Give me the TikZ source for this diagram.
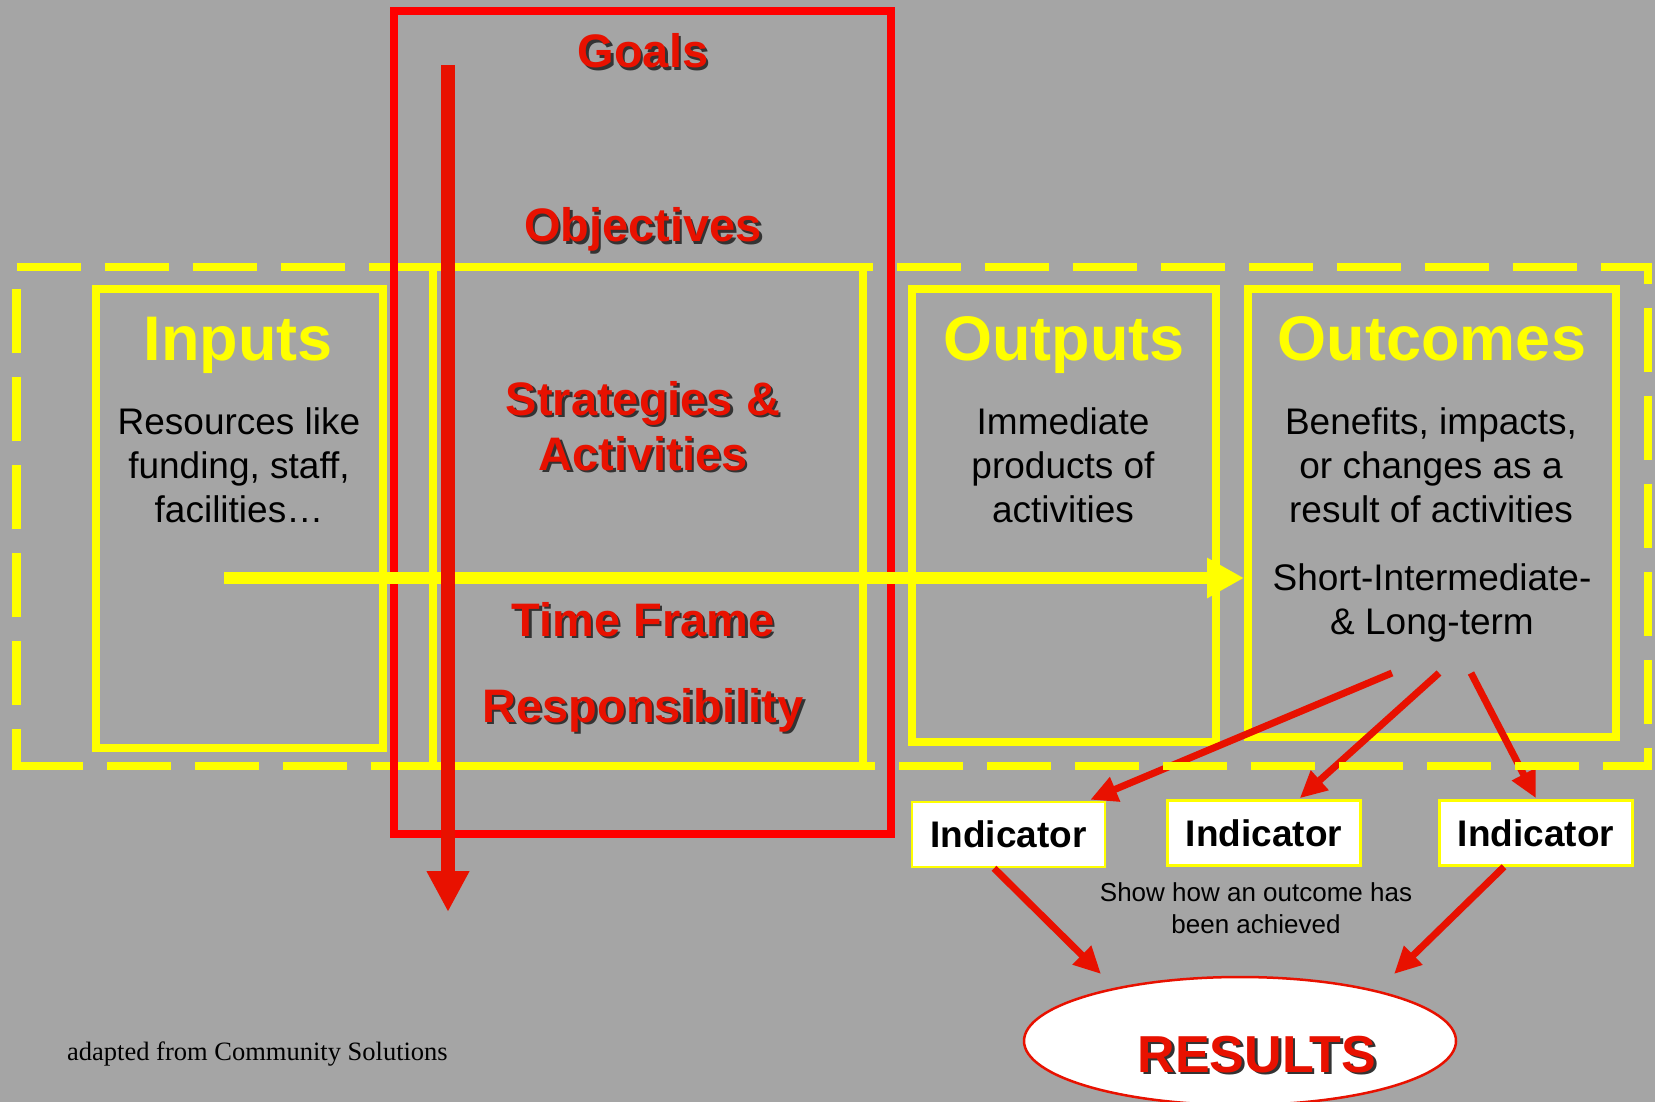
\documentclass[tikz,border=0pt]{standalone}
\usepackage{fontspec}
\setmainfont{Liberation Sans}
\newfontfamily\footserif{Liberation Serif}
\usetikzlibrary{arrows.meta,shapes.geometric}
\definecolor{bggray}{RGB}{165,165,165}
\definecolor{ylw}{RGB}{255,255,0}
\definecolor{boxred}{RGB}{255,0,0}
\definecolor{txtred}{RGB}{232,17,0}
\tikzset{
  ybox/.style={draw=ylw,line width=8pt,inner sep=0pt},
  dashbox/.style={draw=ylw,line width=8.5pt,dash pattern=on 64pt off 24pt},
  redarr/.style={draw=txtred,line width=7pt,-{Triangle[length=27pt,width=25pt]}},
  yarr/.style={draw=ylw,line width=12pt,-{Triangle[length=37pt,width=38pt]}},
  vred/.style={draw=txtred,line width=14pt,-{Triangle[length=41pt,width=40pt]}},
  redtxt/.style={text=txtred,font=\fontsize{47}{56}\selectfont\bfseries,inner sep=0pt,anchor=base},
  shadowtxt/.style={redtxt,text=black!80},
  ytitle/.style={text=ylw,font=\fontsize{63}{75}\selectfont\bfseries,inner sep=0pt,anchor=base},
  body/.style={text=black,font=\fontsize{37}{44}\selectfont,inner sep=0pt,anchor=base,align=center},
  indbox/.style={draw=ylw,fill=white,line width=2.5pt,minimum width=193pt,minimum height=65pt,inner sep=0pt,
    font=\fontsize{37}{44}\selectfont\bfseries,text=black},
}
\newcommand\shadowlabel[4]{%
  \node[shadowtxt,#4] at (#2+2.5,#3+2.5) {#1};
  \node[redtxt,#4] at (#2,#3) {#1};}
\begin{document}
\begin{tikzpicture}[x=1pt,y=-1pt]
\useasboundingbox (0,0) rectangle (1655,1102);
\fill[bggray] (0,0) rectangle (1655,1102);

% solid yellow boxes
\node[ybox,minimum width=287.5pt,minimum height=459pt] (inputs) at (239.25,518.5) {};
\node[ybox,minimum width=304pt,minimum height=453pt] (outputs) at (1064,515.5) {};
\node[ybox,minimum width=368pt,minimum height=448pt] (outcomes) at (1432,513) {};

% indicators
\node[indbox] (ind1) at (1008.5,834.5) {Indicator};
\node[indbox] (ind2) at (1264,833) {Indicator};
\node[indbox] (ind3) at (1536,833) {Indicator};

% results
\node[ellipse,draw=txtred,line width=2.5pt,fill=white,minimum width=432pt,minimum height=128pt,inner sep=0pt] (res) at (1240,1041) {};

% arrows from outcomes to indicators
\coordinate (s1) at (1392,673);
\coordinate (s2) at (1439,673);
\coordinate (s3) at (1471,673);
\draw[redarr] (s1) -- ([xshift=-16pt,yshift=1pt]ind1.north east);
\draw[redarr] (s2) -- ([xshift=-62pt,yshift=1pt]ind2.north east);
\draw[redarr] (s3) -- ([yshift=1pt]ind3.north);

% arrows from indicators to results
\coordinate (r1) at (1101,974);
\coordinate (r2) at (1394,974);
\draw[redarr] ([xshift=-14.5pt]ind1.south) -- (r1);
\draw[redarr] ([xshift=-32pt]ind3.south) -- (r2);

% dashed outer box
\draw[dashbox] (16.5,267) -- (1648,267) -- (1648,766) -- (16.5,766);
\draw[dashbox,dash phase=22.75pt] (16.5,770.25) -- (16.5,267);

% strategies box
\node[ybox,line width=8.5pt,minimum width=430pt,minimum height=499pt] (strat) at (648,516.5) {};

% red frame
\node[draw=boxred,line width=8pt,minimum width=497pt,minimum height=823pt,inner sep=0pt] (redbox) at (642.5,422.5) {};

% yellow flow arrow
\coordinate (ya) at (224,578);
\draw[yarr] (ya) -- (outcomes.west |- ya);

% red vertical arrow
\coordinate (va) at (448,65);
\coordinate (vb) at (448,912);
\draw[vred] (va) -- (vb);

% red labels
\shadowlabel{Goals}{643}{68}{}
\shadowlabel{Objectives}{643}{242}{}
\shadowlabel{Strategies \&}{643}{415}{}
\shadowlabel{Activities}{643}{470}{}
\shadowlabel{Time Frame}{643}{636}{}
\shadowlabel{Responsibility}{643}{722}{}
\shadowlabel{RESULTS}{1257}{1072}{font=\fontsize{52}{60}\selectfont\bfseries}

% yellow titles
\node[ytitle] (tin) at (238,360) {Inputs};
\node[ytitle] (tout) at (1064,360) {Outputs};
\node[ytitle] (tocm) at (1432,360) {Outcomes};

% body texts (anchor = baseline of last line)
\node[body] (bin) at (239,522) {Resources like\\funding, staff,\\facilities…};
\node[body] (bout) at (1063,522) {Immediate\\products of\\activities};
\node[body] (bocm) at (1431,522) {Benefits, impacts,\\or changes as a\\result of activities};
\node[body] (bterm) at (1432,634) {Short-Intermediate-\\\& Long-term};

\node[align=center,anchor=base,inner sep=0pt,font=\fontsize{26}{32}\selectfont] (note) at (1256,933) {Show how an outcome has\\been achieved};

\node[anchor=base west,inner sep=0pt,font=\footserif\fontsize{26.5}{32}\selectfont] (credit) at (67,1060) {adapted from Community Solutions};
\end{tikzpicture}
\end{document}
